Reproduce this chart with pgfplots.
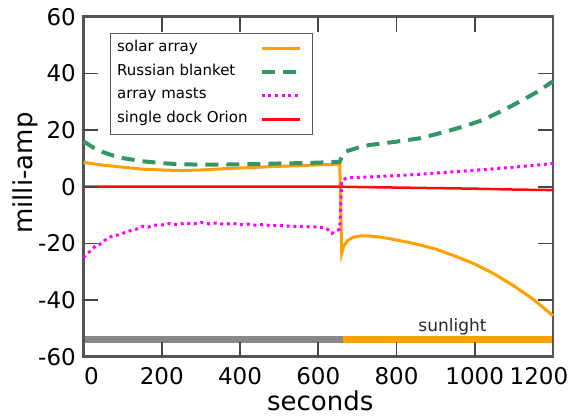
\documentclass[border=0pt]{standalone}
\usepackage{pgfplots}
\pgfplotsset{compat=1.18}
\usepackage{fontspec}
\setmainfont{DejaVu Sans}
\definecolor{sorange}{RGB}{255,160,0}
\definecolor{sgreen}{RGB}{51,150,100}
\definecolor{smag}{RGB}{255,0,255}
\definecolor{sred}{RGB}{255,10,10}
\definecolor{axgray}{RGB}{85,85,85}
\definecolor{tkgray}{RGB}{70,70,70}
\definecolor{bargray}{RGB}{136,136,136}
\begin{document}
\begin{tikzpicture}
\begin{axis}[
  scale only axis,
  width=469.5pt, height=340pt,
  xmin=0, xmax=1200, ymin=-60, ymax=60,
  xtick={0,200,400,600,800,1000,1200},
  xticklabels={\hspace*{16pt}0,200,400,600,800,1000,1200\hspace*{28pt}},
  ytick={-60,-40,-20,0,20,40,60},
  /pgf/number format/assume math mode=true,
  tick align=inside,
  major tick length=15pt,
  tick style={draw=tkgray, line width=1.7pt},
  axis line style={color=axgray, line width=2.5pt},
  ticklabel style={font=\fontsize{23}{27}\selectfont},
  yticklabel style={inner sep=0pt, xshift=-7.5pt},
  xticklabel style={anchor=base, yshift=-27.3pt},
  xlabel={seconds}, ylabel={milli-amp},
  every axis x label/.style={at={(axis description cs:0.5,0)}, xshift=2pt, yshift=-53.3pt, anchor=base, font=\fontsize{26}{30}\selectfont},
  every axis y label/.style={at={(axis description cs:0,0.54)}, xshift=-58pt, rotate=90, anchor=center, font=\fontsize{26}{30}\selectfont},
  legend style={at={(rel axis cs:0.0564,0.952)}, anchor=north west, draw=axgray, line width=1pt,
    font=\fontsize{15}{18}\selectfont, legend cell align=left, row sep=5.7pt, column sep=12pt,
    inner xsep=6.7pt, inner ysep=6pt, nodes={inner sep=0pt, text height=12pt, text depth=6pt}},
  legend plot pos=right,
  legend image code/.code={\draw[mark repeat=2,mark phase=2] plot coordinates {(0pt,0pt) (19pt,0pt) (38.7pt,0pt)}; \path (42.6pt,0pt);},
  clip=false,
]
% sunlight bar
\addplot[forget plot, color=bargray, line width=7pt] coordinates {(5,-53.8) (663,-53.8)};
\addplot[forget plot, color=sorange, line width=7pt] coordinates {(663,-53.8) (1197,-53.8)};
\node[font=\fontsize{17}{20}\selectfont, text=black!85] at (axis cs:943,-49.3) {sunlight};

\addplot[color=sorange, line width=3pt] coordinates {
(0,8.6) (20,8.2) (50,7.6) (100,6.9) (150,6.2) (200,5.9) (250,5.7) (300,5.9) (350,6.3)
(400,6.6) (450,6.9) (500,7.2) (550,7.4) (600,7.7) (650,7.9) (655,7.9)
(660,-23.5) (665,-21) (675,-19) (690,-17.8) (710,-17.3) (730,-17.4) (760,-17.8)
(800,-18.8) (850,-20.2) (900,-22) (950,-24.5) (1000,-27.3) (1050,-30.8) (1100,-35)
(1150,-39.8) (1200,-45.5)};
\addlegendentry{solar array}

\addplot[color=sgreen, line width=4pt, dash pattern=on 13pt off 8pt] coordinates {
(0,16) (25,13.8) (50,12.2) (75,11) (100,10.1) (150,9) (200,8.3) (250,7.9) (300,7.8)
(350,7.8) (400,7.9) (450,8.0) (500,8.2) (550,8.3) (600,8.5) (655,8.8) (660,10.5)
(670,12.4) (700,13.7) (730,14.7) (800,15.9) (860,17.1) (920,19.2) (970,21.2)
(1020,23.5) (1070,26.8) (1120,30.4) (1160,33.5) (1200,37.2)};
\addlegendentry{Russian blanket}

\addplot[color=smag, line width=3pt, dash pattern=on 3pt off 3.7pt] coordinates {
(0,-25) (10,-23.5) (20,-22.5) (30,-21) (40,-20.5) (50,-19.5) (60,-18.3) (75,-17.3)
(90,-17) (105,-16.2) (120,-15.5) (135,-15) (150,-14) (165,-14.3) (180,-13.6)
(200,-13.5) (220,-13) (240,-13.4) (260,-12.8) (280,-13.2) (300,-12.6) (320,-13.1)
(340,-12.8) (360,-13.3) (380,-12.9) (400,-13.4) (420,-13.2) (440,-13.6) (460,-13.3)
(480,-13.8) (500,-13.6) (530,-14) (560,-14.1) (600,-14.2) (620,-14.6) (635,-16.5)
(645,-15.6) (655,-15.0) (660,2) (672,3.1) (720,3.4) (800,3.9) (860,4.4) (950,5.3)
(1030,6.1) (1100,6.9) (1150,7.5) (1200,8.2)};
\addlegendentry{array masts}

\addplot[color=sred, line width=2.5pt] coordinates {
(0,0) (660,0) (700,-0.1) (800,-0.3) (900,-0.5) (1000,-0.7) (1100,-1.0) (1200,-1.2)};
\addlegendentry{single dock Orion}

% tick marks drawn along the frame
\pgfplotsinvokeforeach{200,400,600,800,1000}{
  \draw[tkgray, line width=1.7pt] (axis cs:#1,-60) -- (axis cs:#1,-54.7);
  \draw[tkgray, line width=1.7pt] (axis cs:#1,60) -- (axis cs:#1,54.7);
}
\pgfplotsinvokeforeach{-40,-20,0,20,40}{
  \draw[tkgray, line width=1.7pt] (axis cs:0,#1) -- (axis cs:38.3,#1);
  \draw[tkgray, line width=1.7pt] (axis cs:1200,#1) -- (axis cs:1161.7,#1);
}
\end{axis}
\pgfresetboundingbox
\path ([shift={(-83.5pt,-58.3pt)}]current axis.south west) rectangle ([shift={(15pt,16.7pt)}]current axis.north east);
\end{tikzpicture}
\end{document}
